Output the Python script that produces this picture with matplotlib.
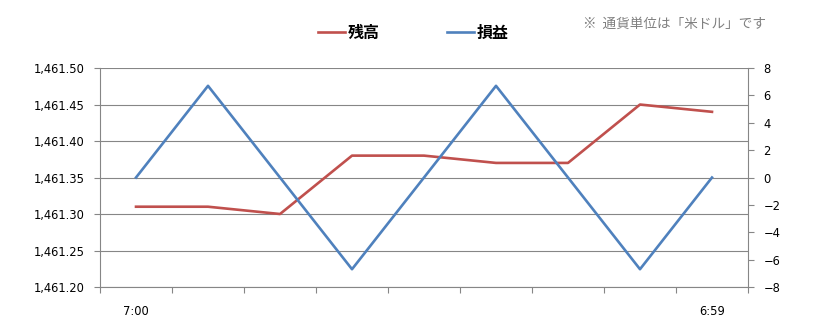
import matplotlib
matplotlib.use("Agg")
import matplotlib.pyplot as plt
from matplotlib.ticker import FuncFormatter, FixedLocator

plt.rcParams['font.family'] = ['Noto Sans CJK JP', 'DejaVu Sans']

# data
times = ["7:00", "", "", "", "", "", "", "", "6:59"]
balance = [1461.31, 1461.31, 1461.30, 1461.38, 1461.38, 1461.37, 1461.37, 1461.45, 1461.44]
pnl = [0, 6.7, 0, -6.7, 0, 6.7, 0, -6.7, 0]

red = "#C0504D"
blue = "#4F81BD"
axis_col = "#868686"

fig = plt.figure(figsize=(8.3, 3.24), dpi=100)
ax = fig.add_axes([0.1205, 0.1142, 0.7807, 0.6758])
ax2 = ax.twinx()

x = list(range(len(times)))
l1, = ax.plot(x, balance, color=red, lw=1.9, label="残高")
l2, = ax2.plot(x, pnl, color=blue, lw=1.9, label="損益")

ax.set_xlim(-0.5, len(times) - 0.5)
ax.set_ylim(1461.20, 1461.50)
ax.set_yticks([1461.20 + 0.05 * i for i in range(7)])
ax.yaxis.set_major_formatter(FuncFormatter(lambda v, p: f"{v:,.2f}"))
ax.grid(axis="y", color=axis_col, lw=0.8)
ax.set_axisbelow(True)

ax2.set_ylim(-8, 8)
ax2.set_yticks(range(-8, 9, 2))

# category boundaries as tick marks, labels at category centres
ax.xaxis.set_major_locator(FixedLocator([i - 0.5 for i in range(len(times) + 1)]))
ax.xaxis.set_major_formatter(FuncFormatter(lambda v, p: ""))
ax.xaxis.set_minor_locator(FixedLocator(x))
ax.set_xticklabels(times, minor=True)
ax.tick_params(axis="x", which="major", direction="out", length=4, color=axis_col)
ax.tick_params(axis="x", which="minor", length=0, pad=13, labelsize=8.5)

ax.tick_params(axis="y", direction="out", length=4, color=axis_col, labelsize=8.5, pad=7)
ax2.tick_params(axis="y", direction="out", length=4, color=axis_col, labelsize=8.5, pad=7)
for lab in ax.get_yticklabels() + ax2.get_yticklabels() + ax.get_xticklabels(minor=True):
    lab.set_family(["DejaVu Sans"])
    lab.set_fontsize(8.3)

for a in (ax, ax2):
    a.spines["top"].set_visible(False)
    for s in ("left", "right", "bottom"):
        a.spines[s].set_color(axis_col)
ax.spines["right"].set_visible(False)
ax2.spines["left"].set_visible(False)
ax2.spines["bottom"].set_visible(False)

fig.legend(handles=[l1, l2], loc="center", bbox_to_anchor=(0.498, 0.898), ncol=2,
           frameon=False, prop={"size": 11.5, "weight": "bold"},
           handlelength=1.7, handletextpad=0.15, columnspacing=4.2)
fig.text(0.702, 0.925, "※  通貨単位は「米ドル」です", fontsize=9.8, color="#808080",
         va="center", ha="left")

fig.savefig("out.png", dpi=100)
